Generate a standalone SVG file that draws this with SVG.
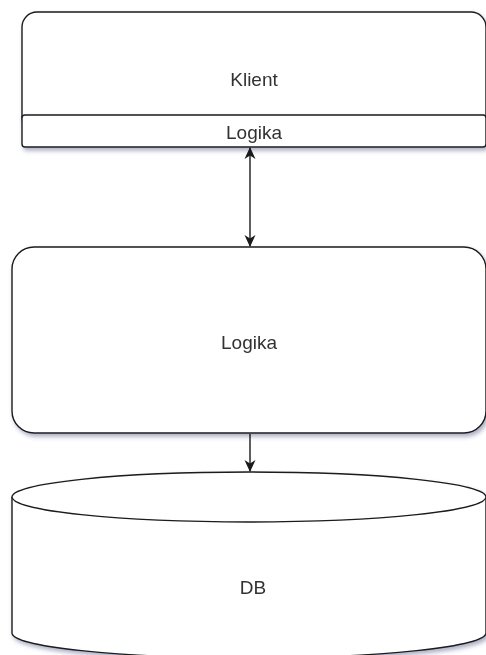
<svg xmlns="http://www.w3.org/2000/svg" width="486" height="655" viewBox="0 0 486 655">
  <style>
    .shape { fill: #ffffff; stroke: #1a1a1a; stroke-width: 1.4; }
    .label { font-family: "Liberation Sans", Arial, sans-serif; font-size: 19px; fill: #333333; text-anchor: middle; dominant-baseline: central; }
    .edge { fill: none; stroke: #1a1a1a; stroke-width: 1.4; }
  </style>
  <defs>
    <filter id="shadow" x="-10%" y="-10%" width="130%" height="140%">
      <feDropShadow dx="2" dy="3" stdDeviation="2" flood-color="#4a5580" flood-opacity="0.45"/>
    </filter>
    <marker id="arrow" viewBox="0 0 12 12" refX="11" refY="6" markerWidth="12" markerHeight="12" markerUnits="userSpaceOnUse" orient="auto-start-reverse">
      <path d="M0,0.5 L12,6 L0,11.5 L3.5,6 Z" fill="#1a1a1a"/>
    </marker>
  </defs>

  <rect width="486" height="655" fill="#ffffff"/>

  <!-- client tier with its embedded logic strip -->
  <g id="klient" filter="url(#shadow)">
    <rect class="shape" x="22" y="12" width="464" height="120" rx="15" ry="15"/>
    <text class="label" x="254" y="79">Klient</text>
  </g>
  <g id="klient-logika" filter="url(#shadow)">
    <rect class="shape" x="22" y="115" width="464" height="32" rx="3" ry="3"/>
    <text class="label" x="254" y="132">Logika</text>
  </g>

  <!-- application logic tier -->
  <g id="logika" filter="url(#shadow)">
    <rect class="shape" x="12" y="247" width="474" height="186" rx="22" ry="22"/>
    <text class="label" x="249" y="342">Logika</text>
  </g>

  <!-- database cylinder -->
  <g id="db" filter="url(#shadow)">
    <path class="shape" d="M12,497 A237,25 0 0 1 486,497 L486,633 A237,25 0 0 1 12,633 Z"/>
    <path class="shape" d="M12,497 A237,25 0 0 0 486,497" fill="none"/>
    <text class="label" x="253" y="587">DB</text>
  </g>

  <!-- connectors -->
  <g id="connectors">
    <line class="edge" x1="250" y1="148" x2="250" y2="246" marker-start="url(#arrow)" marker-end="url(#arrow)"/>
    <line class="edge" x1="250" y1="434" x2="250" y2="471" marker-end="url(#arrow)"/>
  </g>
</svg>
